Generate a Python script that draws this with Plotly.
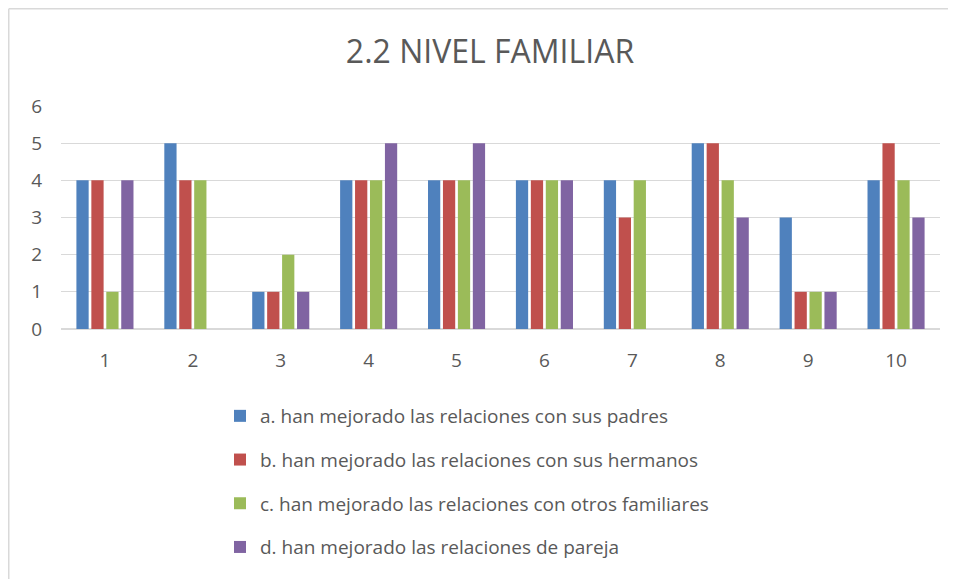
import plotly.graph_objects as go

categories = ["1", "2", "3", "4", "5", "6", "7", "8", "9", "10"]
series_names = [
    "a. han mejorado las relaciones con sus padres",
    "b. han mejorado las relaciones con sus hermanos",
    "c. han mejorado las relaciones con otros familiares",
    "d. han mejorado las relaciones de pareja",
]
padres = [4, 5, 1, 4, 4, 4, 4, 5, 3, 4]
hermanos = [4, 4, 1, 4, 4, 4, 3, 5, 1, 5]
otros = [1, 4, 2, 4, 4, 4, 4, 4, 1, 4]
pareja = [4, 0, 1, 5, 5, 4, 0, 3, 1, 3]
colors = ["#4F81BD", "#C0504D", "#9BBB59", "#8064A2"]

TXT = "#595959"
FONT = "Open Sans"

fig = go.Figure()
for i, (name, vals) in enumerate(zip(series_names, [padres, hermanos, otros, pareja])):
    fig.add_trace(go.Bar(
        x=categories, y=vals, name=name, marker_color=colors[i],
        marker_line_width=0, legendgroup=f"g{i}",
    ))

W, H = 948, 571
L, R, T, B = 53, 16, 98, 250
pw = W - L - R
ph = H - T - B

def px_x(p):
    return (p - L) / pw

def px_y(p):
    return (H - B - p) / ph

border = dict(color="#d9d9d9", width=1.5)

fig.update_layout(
    width=W, height=H,
    margin=dict(l=L, r=R, t=T, b=B, autoexpand=False),
    paper_bgcolor="white", plot_bgcolor="white",
    font=dict(family=FONT, color=TXT),
    title=dict(text="2.2 NIVEL FAMILIAR", x=482 / W, xanchor="center",
               y=1 - 44 / H, yanchor="middle",
               font=dict(size=32, color=TXT, family=FONT)),
    barmode="group", bargap=0.32, bargroupgap=0.18,
    showlegend=True,
    legend=dict(x=px_x(212), xanchor="left", y=px_y(389), yanchor="top",
                orientation="v", traceorder="grouped", tracegroupgap=16,
                font=dict(size=19, color=TXT, family=FONT),
                itemwidth=30, bgcolor="rgba(0,0,0,0)"),
    xaxis=dict(type="category", showgrid=False, showline=True,
               linecolor="#d9d9d9", linewidth=1, ticks="",
               tickfont=dict(size=19, color=TXT), ticklabelstandoff=14,
               fixedrange=True),
    yaxis=dict(range=[0, 6], dtick=1, showgrid=True, gridcolor="#d9d9d9",
               gridwidth=1, zeroline=True, zerolinecolor="#d9d9d9",
               showline=False, ticks="", tickfont=dict(size=19, color=TXT),
               ticklabelstandoff=18, fixedrange=True),
    shapes=[
        dict(type="line", xref="paper", yref="paper",
             x0=px_x(0.75), x1=px_x(W), y0=px_y(0.75), y1=px_y(0.75),
             line=border, layer="below"),
        dict(type="line", xref="paper", yref="paper",
             x0=px_x(0.75), x1=px_x(0.75), y0=px_y(0.75), y1=px_y(H),
             line=border, layer="below"),
    ],
)

fig.write_html("out.html")
